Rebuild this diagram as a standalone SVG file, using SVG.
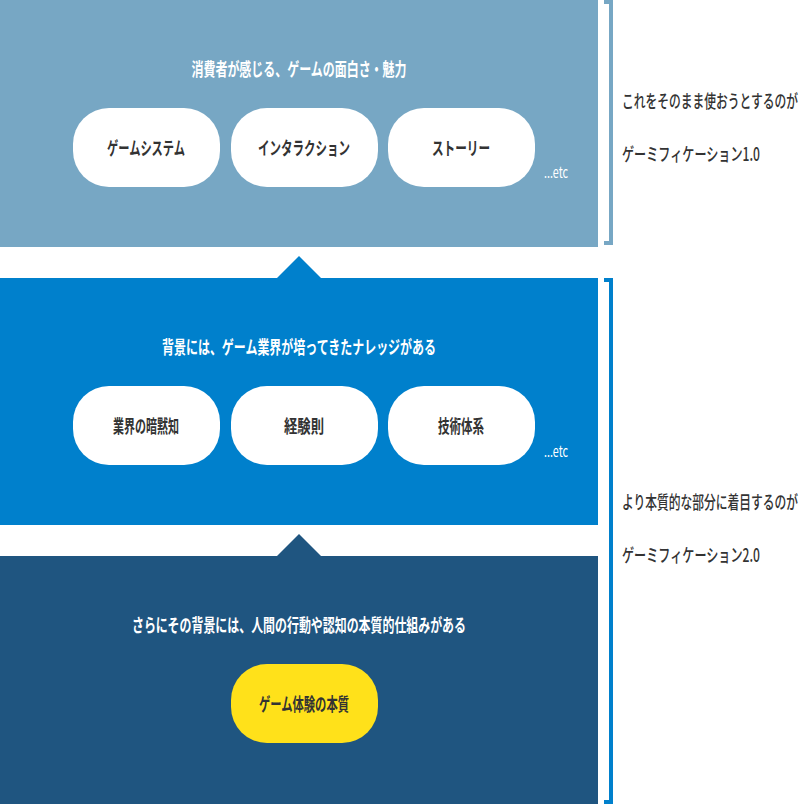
<svg xmlns="http://www.w3.org/2000/svg" width="804" height="804" viewBox="0 0 804 804">
<style>
text{font-family:"Noto Sans CJK JP","Noto Sans",sans-serif;font-weight:bold;font-size:18px}
.t{fill:#fff;text-anchor:middle}
.p{fill:#333;text-anchor:middle}
.e{fill:#fff;font-size:15px;font-weight:normal}
.r{fill:#333;font-weight:500}
.pill{fill:#fff}
</style>
<rect width="804" height="804" fill="#fff"/>
<g id="layer1">
<rect x="0" y="0" width="598" height="247" fill="#77a7c4"/>
<text class="t" x="299" y="76" textLength="215" lengthAdjust="spacingAndGlyphs">消費者が感じる、ゲームの面白さ・魅力</text>
<g id="n1"><rect class="pill" x="73" y="108" width="147" height="79" rx="36"/><text class="p" x="146" y="155" textLength="78" lengthAdjust="spacingAndGlyphs">ゲームシステム</text></g>
<g id="n2"><rect class="pill" x="231" y="108" width="147" height="79" rx="36"/><text class="p" x="304" y="155" textLength="92" lengthAdjust="spacingAndGlyphs">インタラクション</text></g>
<g id="n3"><rect class="pill" x="388" y="108" width="147" height="79" rx="36"/><text class="p" x="461" y="155" textLength="58" lengthAdjust="spacingAndGlyphs">ストーリー</text></g>
<text class="e" x="544" y="178" textLength="24" lengthAdjust="spacingAndGlyphs">...etc</text>
</g>
<g id="layer2">
<rect x="0" y="278" width="598" height="247" fill="#0080cc"/>
<polygon points="277,278 299,256 321,278" fill="#0080cc"/>
<text class="t" x="299" y="354" textLength="274" lengthAdjust="spacingAndGlyphs">背景には、ゲーム業界が培ってきたナレッジがある</text>
<g id="n4"><rect class="pill" x="73" y="386" width="147" height="79" rx="36"/><text class="p" x="146" y="433" textLength="66" lengthAdjust="spacingAndGlyphs">業界の暗黙知</text></g>
<g id="n5"><rect class="pill" x="231" y="386" width="147" height="79" rx="36"/><text class="p" x="304" y="433" textLength="40" lengthAdjust="spacingAndGlyphs">経験則</text></g>
<g id="n6"><rect class="pill" x="388" y="386" width="147" height="79" rx="36"/><text class="p" x="461" y="433" textLength="46" lengthAdjust="spacingAndGlyphs">技術体系</text></g>
<text class="e" x="544" y="457" textLength="24" lengthAdjust="spacingAndGlyphs">...etc</text>
</g>
<g id="layer3">
<rect x="0" y="556" width="598" height="248" fill="#1f5580"/>
<polygon points="277,556 299,534 321,556" fill="#1f5580"/>
<text class="t" x="299" y="632" textLength="334" lengthAdjust="spacingAndGlyphs">さらにその背景には、人間の行動や認知の本質的仕組みがある</text>
<g id="n7"><rect x="231" y="664" width="147" height="79" rx="36" fill="#ffe11a"/><text class="p" x="304" y="711" textLength="90" lengthAdjust="spacingAndGlyphs">ゲーム体験の本質</text></g>
</g>
<g id="connectors" fill="none" stroke-width="4">
<path d="M604,2 H611 V243 H604" stroke="#77a7c4"/>
<path d="M604,280 H611 V802 H604" stroke="#0080cc"/>
</g>
<g id="notes">
<text class="r" x="622" y="108" textLength="176" lengthAdjust="spacingAndGlyphs">これをそのまま使おうとするのが</text>
<text class="r" x="622" y="161" textLength="138" lengthAdjust="spacingAndGlyphs">ゲーミフィケーション1.0</text>
<text class="r" x="622" y="509" textLength="176" lengthAdjust="spacingAndGlyphs">より本質的な部分に着目するのが</text>
<text class="r" x="622" y="562" textLength="138" lengthAdjust="spacingAndGlyphs">ゲーミフィケーション2.0</text>
</g>
</svg>
